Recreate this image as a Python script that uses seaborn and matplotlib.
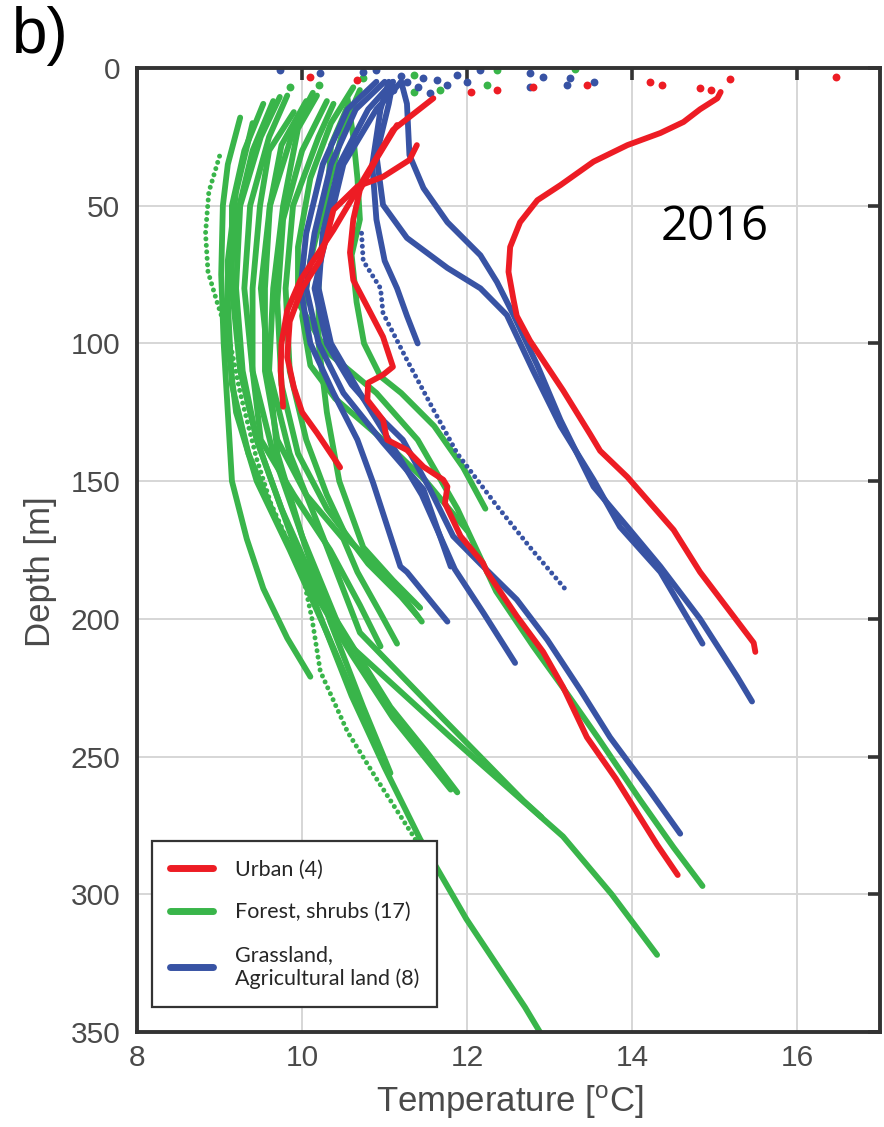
import matplotlib
matplotlib.use("Agg")
import matplotlib.pyplot as plt
from matplotlib.lines import Line2D
import seaborn as sns

# ---- borehole temperature profiles: (temperature degC, depth m) ----
# Urban
urban_a_T = [15.07, 15.03, 14.82, 14.62, 14.34, 13.94, 13.53, 13.13, 12.85, 12.64, 12.52, 12.50, 12.56, 12.60, 12.76, 13.16, 13.49, 13.61, 13.94, 14.50, 14.82, 15.47, 15.49]
urban_a_D = [8.7, 11, 15, 19.6, 23.6, 28, 34, 42.5, 48, 56, 65, 74, 84, 90, 99, 117, 133, 139, 148.5, 167.7, 183, 208.7, 212]
urban_b_T = [11.59, 11.10, 10.74, 10.38, 9.98, 9.82, 9.75, 9.74, 9.77]
urban_b_D = [11, 22.5, 40.6, 58.8, 77, 88, 100, 110, 123]
urban_c_T = [11.39, 11.30, 10.98, 10.67, 10.38, 10.30, 10.22, 10.00, 9.85, 9.82, 9.90, 10.00, 10.18, 10.46]
urban_c_D = [28, 33.4, 39.5, 43, 51.5, 61, 69.7, 80, 92, 105, 116, 125, 132.5, 145]
urban_d_T = [11.15, 10.90, 10.70, 10.62, 10.58, 10.62, 10.79, 10.98, 11.10, 10.98, 10.80, 10.79, 10.98, 11.03, 11.27, 11.47, 11.71, 11.76, 11.73, 11.92, 12.19, 12.24, 12.60, 12.92, 13.16, 13.45, 13.80, 14.05, 14.30, 14.55]
urban_d_D = [20.7, 33, 44.3, 55, 67, 77, 86.7, 97.6, 108.5, 111.4, 114.3, 120.5, 127.8, 135, 138.7, 144.8, 149.5, 152, 158, 170, 179.7, 183, 199, 212, 224.7, 243, 258, 270, 282, 293]

# Forest, shrubs
forest_01_T = [9.00, 8.87, 8.83, 8.86, 8.97, 9.13, 9.25, 9.45, 9.62, 9.80, 10.00, 10.12, 10.22, 10.55, 10.90, 11.35, 11.55]
forest_01_D = [32, 45, 60, 74, 85, 100, 118, 142, 158, 170, 183, 200, 219, 241, 258, 279, 290]
forest_02_T = [9.25, 9.10, 9.04, 9.02, 9.05, 9.10, 9.15, 9.33, 9.53, 9.82, 10.10]
forest_02_D = [18, 35, 50, 75, 100, 125, 150, 171, 189, 207, 221]
forest_03_T = [9.53, 9.30, 9.15, 9.15, 9.25, 9.45, 9.75, 10.18, 10.60, 11.00, 11.43, 11.99, 12.70, 12.88]
forest_03_D = [13, 30, 50, 80, 110, 135, 160, 196, 228, 254, 280, 309, 341, 350]
forest_04_T = [9.82, 9.60, 9.37, 9.30, 9.40, 9.65, 10.00, 10.52, 11.80, 13.16, 13.75, 14.30]
forest_04_D = [10, 25, 50, 80, 110, 140, 170, 208, 243, 279, 300, 322]
forest_05_T = [10.13, 9.90, 9.61, 9.50, 9.60, 9.85, 10.25, 10.70, 11.70, 12.68, 12.90]
forest_05_D = [9, 22, 50, 80, 110, 140, 170, 205, 236, 266, 272]
forest_06_T = [9.73, 9.50, 9.25, 9.20, 9.28, 9.45, 9.75, 10.18, 10.55, 11.07, 11.50, 11.88]
forest_06_D = [10.5, 25, 50, 80, 110, 135, 160, 189, 207, 232, 248, 263]
forest_07_T = [10.18, 9.95, 9.77, 9.65, 9.60, 9.70, 10.01, 10.34, 10.74, 11.07]
forest_07_D = [10, 22, 50, 80, 110, 140, 171, 201, 232, 256]
forest_08_T = [10.38, 10.20, 9.89, 9.80, 9.85, 10.05, 10.30, 10.55, 11.07, 11.45]
forest_08_D = [13, 25, 50, 80, 110, 135, 155, 171, 186, 201]
forest_09_T = [10.55, 10.35, 10.30, 10.20, 10.20, 10.30, 10.45, 10.74, 11.10, 11.43]
forest_09_D = [14, 28, 50, 75, 100, 125, 150, 174, 186, 196]
forest_10_T = [9.90, 9.60, 9.49, 9.40, 9.40, 9.50, 9.90, 10.34, 10.70, 10.95]
forest_10_D = [16, 30, 50, 80, 110, 135, 155, 175, 195, 210]
forest_11_T = [10.05, 9.75, 9.61, 9.55, 9.55, 9.70, 10.05, 10.50, 10.67, 10.95, 11.15]
forest_11_D = [12, 28, 50, 80, 110, 135, 155, 171, 183, 198, 209]
forest_12_T = [10.55, 10.62, 10.67, 10.70, 10.60, 10.66, 10.75, 10.95, 11.20, 11.60, 11.95, 12.22]
forest_12_D = [11, 25, 40, 55, 68, 85, 100, 112, 118, 130, 145, 160]
forest_13_T = [10.62, 10.35, 10.10, 9.95, 9.95, 10.30, 10.90, 11.40, 11.88, 12.35, 12.80, 13.16, 13.58, 14.10, 14.50, 14.85]
forest_13_D = [7, 20, 40, 65, 85, 103, 118, 135, 160, 190, 210, 225, 243, 266, 283, 297]
forest_14_T = [10.30, 10.00, 9.77, 9.70, 9.75, 9.95, 10.30, 10.80, 11.20, 11.40]
forest_14_D = [12, 30, 55, 85, 115, 140, 160, 180, 192, 199]
forest_15_T = [10.70, 10.50, 10.30, 10.10, 10.00, 10.10, 10.40, 10.98, 11.50, 12.00]
forest_15_D = [8, 22, 45, 70, 90, 108, 120, 135, 150, 168]
forest_16_T = [9.40, 9.20, 9.10, 9.10, 9.20, 9.45, 9.85, 10.30, 10.70, 11.00]
forest_16_D = [20, 45, 70, 100, 125, 150, 175, 205, 233, 252]
forest_17_T = [9.65, 9.40, 9.20, 9.10, 9.15, 9.35, 9.70, 10.20, 10.60, 11.10, 11.80]
forest_17_D = [12, 30, 55, 85, 115, 140, 165, 193, 213, 236, 262]

# Grassland, agricultural land
grass_1_T = [11.20, 11.27, 11.30, 11.47, 11.76, 12.16, 12.36, 12.56, 12.85, 13.13, 13.53, 13.94, 14.34, 14.82, 15.27, 15.45]
grass_1_D = [5, 13, 31.6, 43.6, 56, 68, 77.7, 89.6, 108, 127.8, 152, 166.6, 181, 200, 221, 230]
grass_2_T = [11.10, 11.05, 10.90, 10.98, 11.27, 11.76, 12.16, 12.48, 12.80, 13.13, 13.53, 13.85, 14.34, 14.85]
grass_2_D = [5, 13, 31.6, 49.7, 61.7, 72.6, 80, 89.7, 110, 130, 149.5, 166.6, 183, 209]
grass_3_T = [10.72, 10.74, 10.95, 10.98, 11.27, 11.59, 11.88, 12.36, 12.76, 13.21]
grass_3_D = [60, 70, 80, 89, 106, 124, 140, 159, 174, 190]
grass_4_T = [11.05, 10.95, 10.85, 10.90, 11.00, 11.15, 11.27, 11.40]
grass_4_D = [5, 15, 35, 55, 70, 80, 90, 100]
grass_5_T = [10.90, 10.55, 10.25, 10.05, 9.98, 10.10, 10.38, 10.67, 10.86, 11.19, 11.27, 11.76]
grass_5_D = [5, 15, 35, 60, 80, 100, 118, 135, 150.6, 181, 183, 201]
grass_6_T = [11.10, 10.80, 10.45, 10.25, 10.20, 10.35, 10.70, 11.05, 11.45, 11.85, 12.20, 12.58]
grass_6_D = [5, 15, 35, 60, 80, 100, 118, 135, 155, 182, 198, 216]
grass_7_T = [11.20, 10.90, 10.50, 10.30, 10.15, 10.30, 10.60, 10.95, 11.22, 11.55, 11.83, 12.16, 12.60, 12.97, 13.37, 13.73, 14.20, 14.58]
grass_7_D = [5, 15, 35, 60, 80, 100, 115, 127, 135, 153, 170, 180, 193, 207.6, 225.8, 243, 262, 278]
grass_8_T = [11.00, 10.65, 10.35, 10.15, 10.05, 10.20, 10.50, 10.98, 11.47, 11.80]
grass_8_D = [5, 15, 35, 60, 80, 100, 118, 136, 153, 181]

# near-surface readings
urban_top_T = [10.10, 10.67, 12.04, 12.36, 12.80, 13.45, 14.22, 14.36, 14.82, 14.95, 15.18, 16.47]
urban_top_D = [3.3, 4.4, 8.7, 8.0, 6.9, 6.2, 5.0, 6.2, 7.3, 8.0, 4.0, 3.3]
grass_top_T = [9.73, 10.22, 10.74, 10.90, 11.27, 11.47, 11.63, 11.88, 12.00, 12.16, 12.76, 12.92, 12.76, 13.21, 13.25, 13.53, 11.10, 11.40, 11.55, 11.75, 11.20]
grass_top_D = [0.7, 1.8, 1.5, 0.7, 5.0, 3.6, 4.4, 2.5, 5.0, 0.7, 1.8, 3.3, 6.9, 6.2, 3.6, 5.0, 8.0, 7.0, 9.0, 6.0, 3.0]
forest_top_T = [10.74, 11.35, 11.67, 12.24, 12.36, 13.30, 11.35, 9.85, 10.20]
forest_top_D = [3.6, 2.5, 8.0, 6.2, 0.7, 0.3, 8.7, 7.0, 6.0]

urban = [(urban_a_T, urban_a_D, False), (urban_b_T, urban_b_D, False),
         (urban_c_T, urban_c_D, False), (urban_d_T, urban_d_D, False)]
forest = [(forest_01_T, forest_01_D, True), (forest_02_T, forest_02_D, False),
          (forest_03_T, forest_03_D, False), (forest_04_T, forest_04_D, False),
          (forest_05_T, forest_05_D, False), (forest_06_T, forest_06_D, False),
          (forest_07_T, forest_07_D, False), (forest_08_T, forest_08_D, False),
          (forest_09_T, forest_09_D, False), (forest_10_T, forest_10_D, False),
          (forest_11_T, forest_11_D, False), (forest_12_T, forest_12_D, False),
          (forest_13_T, forest_13_D, False), (forest_14_T, forest_14_D, False),
          (forest_15_T, forest_15_D, False), (forest_16_T, forest_16_D, False),
          (forest_17_T, forest_17_D, False)]
grass = [(grass_1_T, grass_1_D, False), (grass_2_T, grass_2_D, False),
         (grass_3_T, grass_3_D, True), (grass_4_T, grass_4_D, False),
         (grass_5_T, grass_5_D, False), (grass_6_T, grass_6_D, False),
         (grass_7_T, grass_7_D, False), (grass_8_T, grass_8_D, False)]

legend_labels = ["Urban (4)", "Forest, shrubs (17)", "Grassland,\nAgricultural land (8)"]
x_ticks = [8, 10, 12, 14, 16]
y_ticks = [0, 50, 100, 150, 200, 250, 300, 350]

RED, GREEN, BLUE = "#ED1C24", "#39B54A", "#3853A4"
AX_COL = "#333333"
TXT_COL = "#4a4a4a"
LW = 4.2

sns.set_style("white")
plt.rcParams["font.family"] = ["Liberation Sans", "DejaVu Sans"]

fig = plt.figure(figsize=(8.84, 11.27), dpi=100)
ax = fig.add_axes([137 / 884, 95 / 1127, 743 / 884, 964 / 1127])


def draw_profile(T, D, color, dotted, z):
    kw = dict(solid_capstyle="round", solid_joinstyle="round")
    lw = LW
    if dotted:
        kw = dict(linestyle=(0, (0.01, 1.3)), dash_capstyle="round")
        lw = LW * 0.85
    sns.lineplot(x=T, y=D, ax=ax, color=color, sort=False, estimator=None,
                 errorbar=None, orient="y", linewidth=lw, zorder=z, legend=False, **kw)


for T, D, dotted in forest:
    draw_profile(T, D, GREEN, dotted, 3)
for T, D, dotted in grass:
    draw_profile(T, D, BLUE, dotted, 4)
for T, D, dotted in urban:
    draw_profile(T, D, RED, dotted, 5)

sns.scatterplot(x=forest_top_T, y=forest_top_D, ax=ax, color=GREEN, s=32, linewidth=0, zorder=3)
sns.scatterplot(x=grass_top_T, y=grass_top_D, ax=ax, color=BLUE, s=32, linewidth=0, zorder=4)
sns.scatterplot(x=urban_top_T, y=urban_top_D, ax=ax, color=RED, s=32, linewidth=0, zorder=5)

ax.set_xlim(8, 17)
ax.set_ylim(350, 0)
ax.set_xticks(x_ticks)
ax.set_yticks(y_ticks)
ax.grid(True, color="#d6d6d6", linewidth=1.4, zorder=0)
ax.set_axisbelow(True)

for sp in ax.spines.values():
    sp.set_visible(True)
    sp.set_color(AX_COL)
    sp.set_linewidth(2.8)
    sp.set_zorder(10)

ax.tick_params(axis="both", which="major", direction="in", length=8.5, width=2.6,
               color=AX_COL, top=True, right=True, labelcolor=TXT_COL, labelsize=21.5)
ax.tick_params(axis="x", pad=9)
ax.tick_params(axis="y", pad=12)

ax.set_xlabel("Temperature [$\\mathregular{^o}$C]", fontsize=25, color=TXT_COL)
ax.set_ylabel("Depth [m]", fontsize=25, color=TXT_COL)
ax.xaxis.set_label_coords(0.502, -0.053)
ax.yaxis.set_label_coords(-0.108, 0.478)

ax.text(15.0, 58, "2016", ha="center", va="center", fontsize=34,
        family=["Open Sans", "DejaVu Sans"], color="black", zorder=12)

fig.text(12 / 884, 1 - 6 / 1127, "b)", ha="left", va="top", fontsize=46, color="black")

handles = [Line2D([0], [0], color=c, linewidth=5) for c in (RED, GREEN, BLUE)]
leg = ax.legend(handles, legend_labels, loc="lower left", bbox_to_anchor=(0.02, 0.026),
                frameon=True, fancybox=False, framealpha=1, edgecolor=AX_COL,
                prop={"family": ["Lato", "DejaVu Sans"], "size": 15.5},
                handlelength=2.0, handletextpad=1.0, borderpad=0.85, labelspacing=1.05,
                borderaxespad=0)
leg.get_frame().set_linewidth(1.6)
leg.set_zorder(20)

fig.savefig("out.png", dpi=100)
